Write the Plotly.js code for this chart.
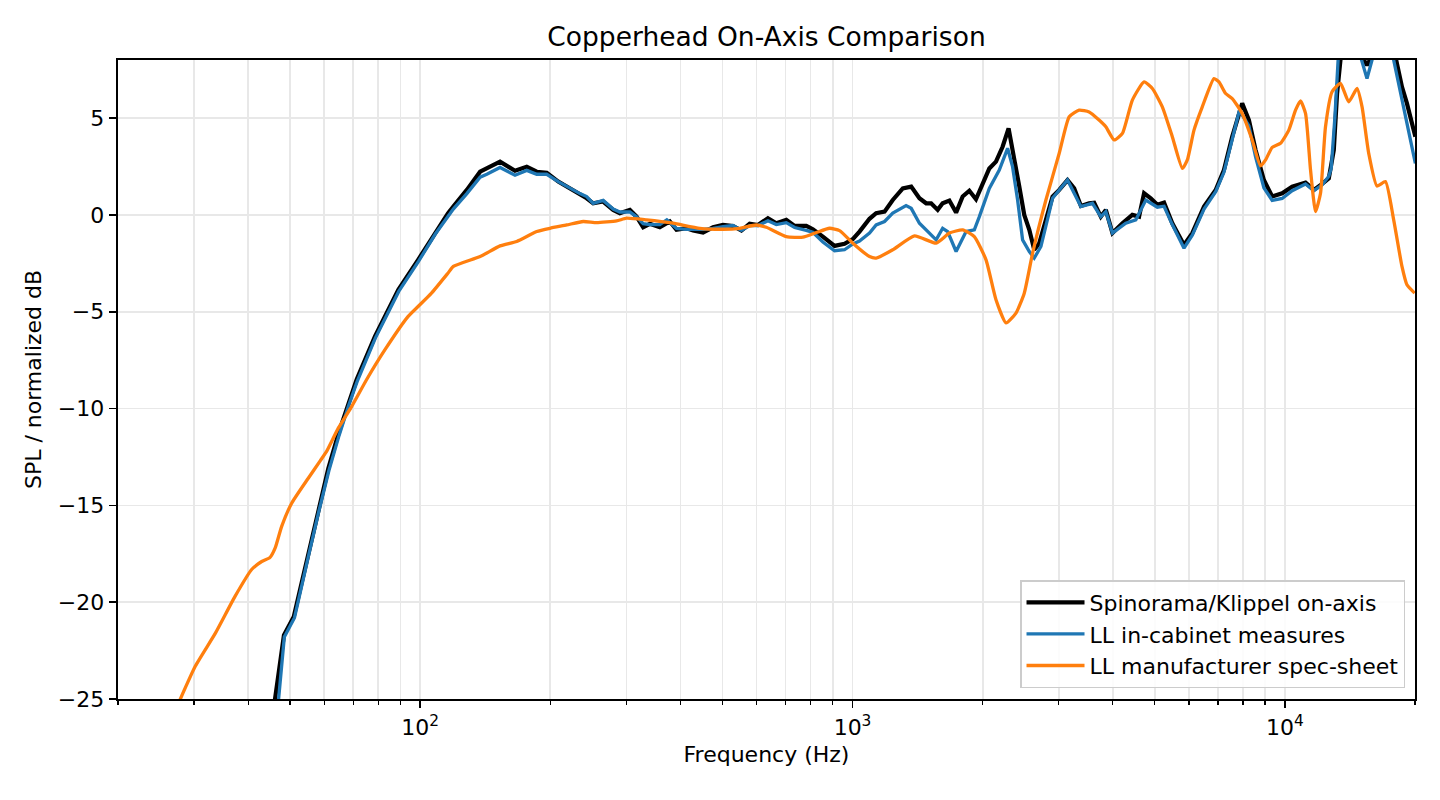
<!DOCTYPE html>
<html>
<head>
<meta charset="utf-8">
<script src="https://cdn.plot.ly/plotly-3.0.1.min.js"></script>
<style>html,body{margin:0;padding:0;background:#fff;}#chart{width:1440px;height:800px;}</style>
</head>
<body>
<div id="chart"></div>
<script>
// ---- data ----
const seriesNames = ["Spinorama/Klippel on-axis", "LL in-cabinet measures", "LL manufacturer spec-sheet"];

const spinFreq = [45.5,48.4,51.0,52.8,55.1,58.1,61.3,64.7,68.2,71.3,78.6,89.0,98.9,108.1,116.0,119.3,128.2,137.6,142.6,153.0,165.7,176.4,186.0,196.2,208.6,222.0,234.2,242.7,251.3,265.0,279.5,289.6,305.5,316.6,327.9,339.8,358.3,377.9,391.6,413.0,427.8,451.1,475.7,501.8,529.1,553.4,578.2,604.3,637.3,666.4,702.8,734.6,781.8,809.6,853.9,908.7,958.3,1001.6,1038,1094.7,1134,1186,1239,1307,1367,1428,1480,1520,1574,1616,1675,1736,1798,1863,1930,1999,2072,2147,2224,2296,2367,2431,2496,2564,2632,2704,2801,2902,3007,3142,3256,3375,3526,3622,3753,3854,3992,4210,4439,4600,4725,4896,5071,5255,5491,5844,6108,6502,6918,7229,7556,7758,7968,8258,8556,8943,9347,9858,10397,11164,11668,12194,12637,12978,13207,13446,14054,14956,15488,15908,16928,18013,18659,19160,20041];
const spinDb = [-26,-21.7,-20.75,-19.3,-17.4,-15.2,-13.1,-11.3,-9.7,-8.5,-6.27,-3.87,-2.32,-0.94,0.09,0.43,1.29,2.23,2.4,2.75,2.28,2.49,2.23,2.18,1.72,1.37,1.03,0.86,0.6,0.69,0.26,0.09,0.26,-0.09,-0.64,-0.46,-0.64,-0.34,-0.77,-0.69,-0.81,-0.91,-0.64,-0.52,-0.57,-0.81,-0.46,-0.52,-0.17,-0.43,-0.26,-0.57,-0.57,-0.74,-1.12,-1.6,-1.49,-1.25,-0.86,-0.2,0.09,0.17,0.77,1.37,1.46,0.86,0.6,0.6,0.26,0.6,0.74,0.12,0.95,1.25,0.81,1.63,2.4,2.75,3.52,4.47,3.01,1.46,0,-0.77,-1.8,-1.46,-0.26,0.95,1.29,1.8,1.37,0.46,0.6,0.63,-0.09,0.26,-0.94,-0.43,0,-0.09,1.12,0.86,0.52,0.63,-0.43,-1.55,-0.94,0.43,1.29,2.32,4.04,4.98,5.76,4.9,3.35,1.8,0.95,1.12,1.46,1.67,1.29,1.6,1.89,3.35,6.27,8.0,10.5,8.3,7.73,8.2,10.5,8.2,6.61,5.76,4.04];

const cabFreq = [46.6,48.5,51.2,53.0,55.3,58.3,61.5,64.9,68.4,71.5,78.8,89.2,99.1,108.3,116.2,119.3,128.2,137.6,142.6,153.0,165.7,176.4,186.0,196.2,208.6,222.0,234.2,242.7,251.3,265.0,279.5,289.6,305.5,316.6,327.9,339.8,358.3,372.0,391.6,413.0,427.8,451.1,475.7,501.8,529.1,553.4,578.2,604.3,637.3,666.4,702.8,734.6,781.8,809.6,853.9,908.7,958.3,1001.6,1038,1094.7,1134,1186,1239,1330,1367,1428,1561,1616,1660,1736,1831,1913,1965,2072,2185,2284,2345,2409,2474,2564,2632,2728,2902,3142,3375,3589,3753,3854,3992,4286,4521,4769,5071,5255,5491,5844,6108,6502,6918,7229,7556,7850,8258,8556,8943,9347,9858,10397,11164,11668,12194,12637,12800,13050,13280,14000,14956,15488,15908,16928,17850,18659,19230,20041];
const cabDb = [-26,-21.8,-20.8,-19.4,-17.5,-15.3,-13.2,-11.4,-9.8,-8.6,-6.35,-3.95,-2.4,-1.0,0.0,0.3,1.1,1.95,2.1,2.45,2.05,2.3,2.1,2.1,1.72,1.37,1.1,0.95,0.6,0.75,0.3,0.15,0.15,-0.1,-0.45,-0.5,-0.5,-0.25,-0.7,-0.75,-0.75,-0.75,-0.7,-0.6,-0.55,-0.8,-0.55,-0.55,-0.3,-0.5,-0.4,-0.65,-0.8,-0.9,-1.4,-1.85,-1.8,-1.5,-1.35,-0.94,-0.52,-0.34,0.09,0.48,0.34,-0.43,-1.29,-0.69,-0.86,-1.89,-0.86,-0.77,-0.09,1.37,2.32,3.44,2.49,0.77,-1.29,-1.89,-2.23,-1.63,0.86,1.8,0.43,0.6,-0.09,0.17,-0.94,-0.43,-0.26,0.77,0.4,0.45,-0.5,-1.72,-1.05,0.3,1.2,2.2,3.9,5.4,4.6,3.0,1.4,0.75,0.85,1.25,1.6,1.25,1.55,2.0,2.4,5.0,8.0,10.5,8.2,7.04,8.0,10.5,8.0,5.93,4.55,2.66];

const specFreq = [27.5,30.2,33.6,37.3,40.8,43.0,44.9,46.2,47.8,50.4,55.1,58.7,60.8,64.7,69.4,75.2,82.9,93.8,98.9,106.2,116.0,119.3,137.6,153.0,167.2,186.0,199.6,218.2,238.3,255.9,284.7,300.2,333.9,384.6,443.3,501.8,548.3,599.1,631.9,702.8,767.7,824.6,885.0,933.3,1001.6,1094.7,1134,1239,1391,1561,1675,1798,1913,2036,2147,2265,2388,2496,2609,2801,3007,3171,3343,3526,3718,3854,4028,4210,4439,4725,4938,5207,5491,5793,5949,6164,6442,6855,7040,7295,7556,7968,8404,8787,9024,9347,9772,10214,10585,10870,11164,11466,11774,12091,12417,12860,13446,14054,14689,15086,15632,16338,17084,17853,18659,19160,19967];
const specDb = [-25.3,-23.3,-21.6,-19.7,-18.3,-17.9,-17.7,-17.2,-16.1,-14.9,-13.6,-12.7,-12.2,-11.0,-9.9,-8.5,-6.96,-5.24,-4.73,-4.04,-3.0,-2.66,-2.15,-1.6,-1.37,-0.86,-0.69,-0.52,-0.34,-0.4,-0.31,-0.17,-0.26,-0.43,-0.69,-0.74,-0.69,-0.52,-0.64,-1.12,-1.15,-0.91,-0.69,-0.81,-1.46,-2.15,-2.23,-1.8,-1.08,-1.46,-0.94,-0.77,-1.12,-2.32,-4.38,-5.58,-5.07,-4.04,-1.98,0.77,3.18,5.07,5.41,5.32,4.9,4.55,3.87,4.21,5.93,6.87,6.53,5.58,4.04,2.4,2.84,4.38,5.58,7.04,6.87,6.27,6.01,5.24,3.87,2.53,2.84,3.49,3.70,4.38,5.41,5.89,5.24,2.32,0.17,1.12,4.55,6.36,6.79,5.84,6.53,5.58,3.18,1.49,1.72,-0.26,-2.66,-3.61,-4.04];

const xMajorTicks = [100, 1000, 10000];
const xMajorLabels = ["10<sup>2</sup>", "10<sup>3</sup>", "10<sup>4</sup>"];
const xMinorTicks = [20,30,40,50,60,70,80,90,200,300,400,500,600,700,800,900,2000,3000,4000,5000,6000,7000,8000,9000,20000];
const yTicks = [-25, -20, -15, -10, -5, 0, 5];

// ---- chart ----
const FONT = "DejaVu Sans, Liberation Sans, sans-serif";
const GRID = "#e8e8e8";

const traces = [
  {x: spinFreq, y: spinDb, name: seriesNames[0], mode: "lines",
   line: {color: "#000000", width: 4.2}},
  {x: cabFreq, y: cabDb, name: seriesNames[1], mode: "lines",
   line: {color: "#1f77b4", width: 3.3}},
  {x: specFreq, y: specDb, name: seriesNames[2], mode: "lines",
   line: {color: "#ff7f0e", width: 3.3, shape: "spline", smoothing: 0.5}}
];

const layout = {
  width: 1440, height: 800,
  paper_bgcolor: "#ffffff", plot_bgcolor: "#ffffff",
  margin: {l: 118, r: 25, t: 60, b: 101, pad: 0},
  font: {family: FONT, size: 22, color: "#000000"},
  showlegend: true,
  title: {text: "Copperhead On-Axis Comparison", font: {family: FONT, size: 26.5, color: "#000"},
          x: 0.5, xref: "paper", xanchor: "center", y: 1 - 37/800, yref: "container", yanchor: "middle"},
  xaxis: {
    type: "log", range: [Math.log10(20), Math.log10(20000)],
    tickmode: "array", tickvals: xMajorTicks, ticktext: xMajorLabels,
    ticks: "outside", ticklen: 7.7, tickwidth: 1.7, tickcolor: "#000",
    tickfont: {family: FONT, size: 22, color: "#000"},
    showgrid: true, gridcolor: GRID, gridwidth: 1.7,
    minor: {tickmode: "array", tickvals: xMinorTicks, ticks: "outside", ticklen: 4.4, tickwidth: 1.3,
            tickcolor: "#000", showgrid: true, gridcolor: GRID, gridwidth: 1.7},
    showline: true, linecolor: "#000", linewidth: 1.7, mirror: true,
    zeroline: false, automargin: false,
    title: {text: "Frequency (Hz)", font: {family: FONT, size: 22, color: "#000"}, standoff: 8}
  },
  yaxis: {
    range: [-25, 8],
    tickmode: "array", tickvals: yTicks,
    ticks: "outside", ticklen: 7.7, tickwidth: 1.7, tickcolor: "#000",
    tickfont: {family: FONT, size: 22, color: "#000"},
    showgrid: true, gridcolor: GRID, gridwidth: 1.7,
    showline: true, linecolor: "#000", linewidth: 1.7, mirror: true,
    zeroline: false, automargin: false,
    title: {text: "SPL / normalized dB", font: {family: FONT, size: 22, color: "#000"}, standoff: 10}
  },
  legend: {
    x: 0.9923, xanchor: "right", xref: "paper",
    y: 0.0172, yanchor: "bottom", yref: "paper",
    bgcolor: "rgba(255,255,255,0.85)", bordercolor: "#cccccc", borderwidth: 1.5,
    font: {family: FONT, size: 22, color: "#000"},
    itemwidth: 58,
    traceorder: "normal"
  }
};

Plotly.newPlot("chart", traces, layout, {displayModeBar: false, staticPlot: true});
</script>
</body>
</html>
